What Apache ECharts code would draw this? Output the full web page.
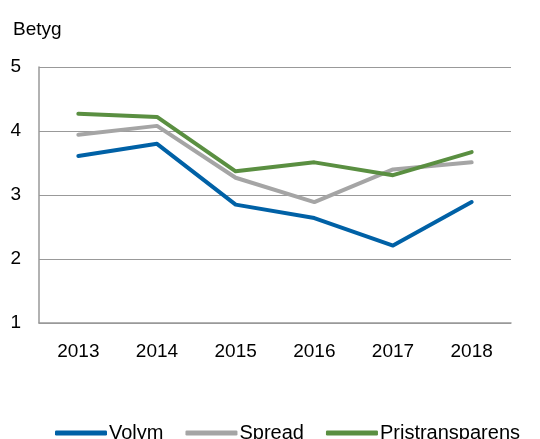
<!DOCTYPE html>
<html>
<head>
<meta charset="utf-8">
<script src="https://cdn.jsdelivr.net/npm/echarts@6/dist/echarts.min.js"></script>
<style>
  html, body { margin: 0; padding: 0; background: #fff; }
  #chart { width: 540px; height: 439px; }
</style>
</head>
<body>
<div id="chart"></div>
<script>
const years = ['2013', '2014', '2015', '2016', '2017', '2018'];
const volym = [3.61, 3.80, 2.85, 2.64, 2.21, 2.89];
const spread = [3.94, 4.08, 3.27, 2.89, 3.40, 3.51];
const pristransparens = [4.27, 4.22, 3.37, 3.51, 3.31, 3.67];

const font = 'Liberation Sans, Arial, sans-serif';
const chart = echarts.init(document.getElementById('chart'));

function line(name, data, color) {
  return {
    name: name,
    type: 'line',
    data: data,
    symbol: 'none',
    color: color,
    lineStyle: { width: 4, color: color, cap: 'round', join: 'round' }
  };
}

chart.setOption({
  animation: false,
  title: {
    text: 'Betyg',
    left: 8,
    top: 15,
    textStyle: { fontFamily: font, fontSize: 19, fontWeight: 'normal', color: '#000' }
  },
  grid: { left: 39, right: 29, top: 67, bottom: 116 },
  legend: {
    left: 50,
    top: 418,
    icon: 'roundRect',
    itemWidth: 52,
    itemHeight: 5,
    itemGap: 22,
    textStyle: { fontFamily: font, fontSize: 20, color: '#000', padding: [0, 0, 0, -3] },
    data: ['Volym', 'Spread', 'Pristransparens']
  },
  xAxis: {
    type: 'category',
    data: years,
    axisLine: { lineStyle: { color: '#999', width: 1.5 } },
    axisTick: { show: false },
    axisLabel: { fontFamily: font, fontSize: 19, color: '#000', margin: 19 }
  },
  yAxis: {
    type: 'value',
    min: 1,
    max: 5,
    interval: 1,
    axisLine: { show: true, lineStyle: { color: '#999', width: 1.5 } },
    axisTick: { show: false },
    splitLine: { lineStyle: { color: '#999', width: 1 } },
    axisLabel: { fontFamily: font, fontSize: 19, color: '#000', margin: 18 }
  },
  series: [
    line('Volym', volym, '#0061a6'),
    line('Spread', spread, '#a5a5a5'),
    line('Pristransparens', pristransparens, '#5a8f41')
  ]
});
</script>
</body>
</html>
